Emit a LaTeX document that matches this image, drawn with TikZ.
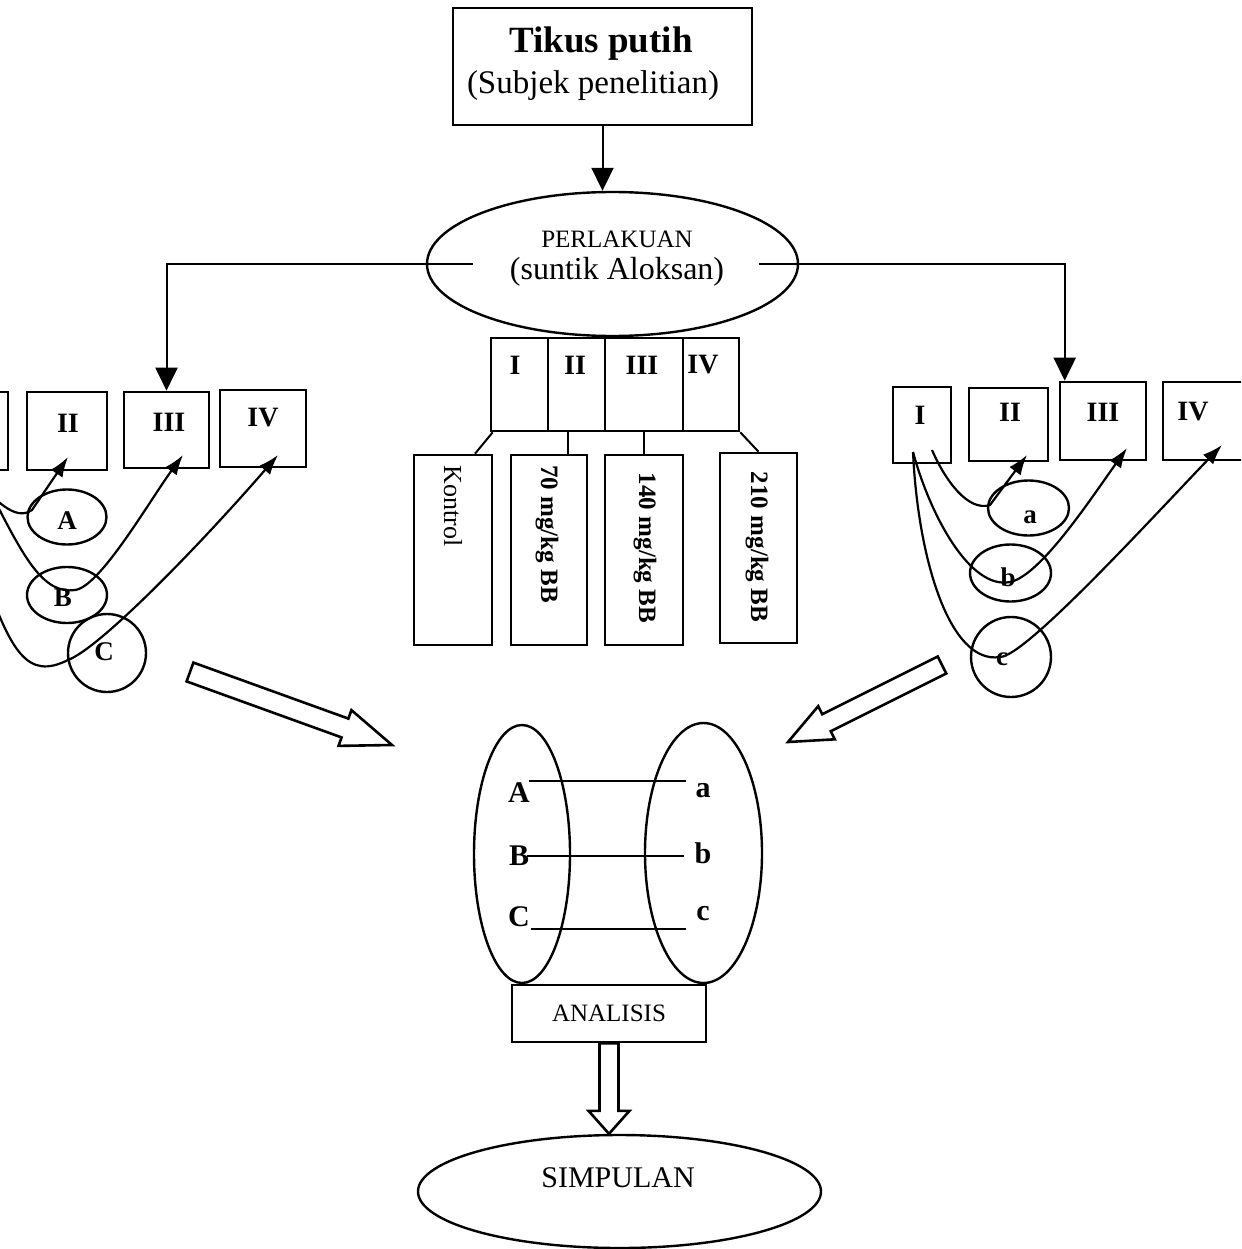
\documentclass[tikz,border=0pt]{standalone}
\usepackage{fontspec}
\setmainfont{Liberation Serif}
\usetikzlibrary{shapes.geometric,arrows.meta,calc}
\newcommand\sz[1]{\fontsize{#1}{#1}\selectfont}
% hollow block arrow: tail, tip, shaft half-width, head half-width, head length
\newcommand\fatarrow[5]{%
  \coordinate (fa-neck) at ($(#2)!#5!(#1)$);
  \draw[outline] ($(#1)!#3!90:(#2)$) -- ($(fa-neck)!#3!90:(#2)$)
    -- ($(fa-neck)!#4!90:(#2)$) -- (#2) -- ($(fa-neck)!#4!-90:(#2)$)
    -- ($(fa-neck)!#3!-90:(#2)$) -- ($(#1)!#3!-90:(#2)$) -- cycle;}
\begin{document}
\begin{tikzpicture}[x=1pt,y=-1pt,
  box/.style={draw, rectangle, line width=2.6pt, inner sep=0pt},
  oval/.style={draw, ellipse, line width=2.4pt, inner sep=0pt},
  ring/.style={draw, circle, line width=2.4pt, inner sep=0pt},
  num/.style={font=\sz{28}\bfseries, inner sep=0pt},
  lbl/.style={font=\sz{27}\bfseries, inner sep=0pt},
  letterlbl/.style={font=\sz{30}\bfseries, inner sep=0pt},
  vtext/.style={rotate=-90, inner sep=0pt, font=\sz{25}\bfseries},
  link/.style={line width=2pt},
  curvetip/.style={line width=2.2pt, -{Latex[length=20pt,width=14pt]}},
  droptip/.style={line width=2pt, -{Triangle[length=23pt,width=22pt]}},
  outline/.style={line width=2.6pt, line join=miter, fill=white}]
\useasboundingbox (0,0) rectangle (1241,1249);
\clip (0,0) rectangle (1241,1249);

% subject and treatment
\node[box, minimum width=299pt, minimum height=117pt] (top) at (602.5,66.5) {};
\node[inner sep=0pt, font=\sz{37}\bfseries] (topa) at (601,44) {Tikus putih};
\node[inner sep=0pt, font=\sz{33}] (topb) at (593,86) {(Subjek penelitian)};
\node[oval, minimum width=371pt, minimum height=144pt] (perl) at (612.5,264) {};
\node[inner sep=0pt, font=\sz{25}] (perla) at (617,239) {PERLAKUAN};
\node[inner sep=0pt, font=\sz{32}] (perlb) at (617,272) {(suntik Aloksan)};
\draw[droptip] (top.south) -- (top.south |- perl.north);

% left group
\node[box, minimum width=80pt, minimum height=78pt] (lI) at (-32,431) {};
\node[box, minimum width=80pt, minimum height=78pt] (lII) at (67,431) {};
\node[box, minimum width=85pt, minimum height=76pt] (lIII) at (166.5,430) {};
\node[box, minimum width=86pt, minimum height=77pt] (lIV) at (263,428.5) {};
\node[num] at (68,423) {II};
\node[num] at (169,422) {III};
\node[num] at (263,418) {IV};
\node[oval, minimum width=79pt, minimum height=55pt] (eA) at (67,517) {};
\node[oval, minimum width=80pt, minimum height=56pt] (eB) at (67,595) {};
\node[ring, minimum size=78pt] (eC) at (107,653) {};
\node[lbl] at (67,521) {A};
\node[lbl] at (63,598) {B};
\node[lbl] at (104,652) {C};
\coordinate (tA) at (68,457);
\coordinate (tB) at (183,455);
\coordinate (tC) at (278,455);
\draw[curvetip] (lI.south) .. controls (-5,500) and (15,522) .. (32,510) -- (tA);
\draw[curvetip] ([xshift=12pt]lI.south) .. controls (20,550) and (40,595) .. (75,590)
  .. controls (100,587) and (150,500) .. (tB);
\draw[curvetip] ([xshift=12pt,yshift=-90pt]lI.south) .. controls (10,655) and (28,680) .. (68,660)
  .. controls (100,648) and (200,545) .. (tC);
\draw[droptip] ([xshift=-140pt]perl.center) -| (lIII.north);

% dose groups
\node[box, minimum width=57pt, minimum height=93pt] (c1) at (519.5,384.5) {};
\node[box, minimum width=57pt, minimum height=93pt] (c2) at (576.5,384.5) {};
\node[box, minimum width=78pt, minimum height=93pt] (c3) at (644,384.5) {};
\node[box, minimum width=56pt, minimum height=93pt] (c4) at (711,384.5) {};
\node[num] at (515,365) {I};
\node[num] at (575,365) {II};
\node[num] at (642,365) {III};
\node[num] at (703,365) {IV};
\node[box, minimum width=78pt, minimum height=190pt] (k1) at (453,550) {};
\node[box, minimum width=76pt, minimum height=190pt] (k2) at (549,550) {};
\node[box, minimum width=78pt, minimum height=190pt] (k3) at (644,550) {};
\node[box, minimum width=77pt, minimum height=190pt] (k4) at (758.5,548) {};
\node[vtext, font=\sz{26}] at (453,506) {Kontrol};
\node[vtext] at (547,534) {70 mg/kg BB};
\node[vtext] at (645,548) {140 mg/kg BB};
\node[vtext] at (757,547) {210 mg/kg BB};
\coordinate (k2n) at ($(k2.north)+(19,0)$);
\draw[link] ($(c1.south west)+(3,0)$) -- ($(k1.north)+(22,0)$);
\draw[link] (k2n) -- (k2n |- c2.south);
\draw[link] (c3.south) -- (k3.north);
\draw[link] (c4.south east) -- (k4.north);

% right group
\node[box, minimum width=58pt, minimum height=76pt] (rI) at (922,425) {};
\node[box, minimum width=79pt, minimum height=73pt] (rII) at (1008.5,424.5) {};
\node[box, minimum width=86pt, minimum height=78pt] (rIII) at (1103,421) {};
\node[box, minimum width=87pt, minimum height=78pt] (rIV) at (1206.5,421) {};
\node[num] at (920,415) {I};
\node[num] at (1010,412) {II};
\node[num] at (1103,412) {III};
\node[num] at (1193,412) {IV};
\node[oval, minimum width=81pt, minimum height=55pt] (ea) at (1028.5,508) {};
\node[oval, minimum width=81pt, minimum height=57pt] (eb) at (1010.5,573) {};
\node[ring, minimum size=80pt] (ec) at (1011,657) {};
\node[lbl] at (1030,517) {a};
\node[lbl] at (1008,577) {b};
\node[lbl] at (1002,659) {c};
\coordinate (ra0) at (932,450);
\coordinate (rb0) at (913,452);
\coordinate (ta) at (1027,455);
\coordinate (tb) at (1127,448);
\coordinate (tc) at (1222,445);
\draw[curvetip] (ra0) .. controls (945,480) and (968,512) .. (990,505) -- (ta);
\draw[curvetip] (rb0) .. controls (930,515) and (970,590) .. (1010,582)
  .. controls (1040,576) and (1090,500) .. (tb);
\draw[curvetip] (rb0) .. controls (918,560) and (950,665) .. (1000,657)
  .. controls (1025,657) and (1150,520) .. (tc);
\coordinate (rIIIn) at ($(rIII.north west)+(6,0)$);
\draw[droptip] ([xshift=146pt]perl.center) -| (rIIIn);

% analysis
\node[oval, minimum width=96pt, minimum height=258pt] (gL) at (522,854) {};
\node[oval, minimum width=117pt, minimum height=260pt] (gR) at (703.5,853) {};
\node[box, minimum width=194pt, minimum height=57pt, font=\sz{25}] (ana) at (609,1013.5) {ANALISIS};
\node[letterlbl] (A2) at (519,793) {A};
\node[letterlbl] (B2) at (519,856) {B};
\node[letterlbl] (C2) at (519,917) {C};
\node[letterlbl] (a2) at (703,791) {a};
\node[letterlbl] (b2) at (703,853) {b};
\node[letterlbl] (c2l) at (703,914) {c};
\draw[link] ($(A2.north east)+(-1,-2)$) -- ++(157,0);
\draw[link] ([xshift=-2pt]B2.east) -- ++(157,0);
\draw[link] ($(C2.south east)+(1,2)$) -- ++(155,0);

% conclusion
\node[oval, minimum width=403pt, minimum height=113pt] (simp) at (619.5,1191.5) {};
\node[inner sep=0pt, font=\sz{30}] (simpt) at (618,1178) {SIMPULAN};

% block arrows into analysis and conclusion
\coordinate (lt) at (190,672);
\coordinate (lh) at (392,745);
\coordinate (rt) at (942,665);
\coordinate (rh) at (788,742);
\coordinate (simptop) at (ana.south |- simp.north);
\fatarrow{lt}{lh}{10pt}{19pt}{50pt}
\fatarrow{rt}{rh}{9.5pt}{18.5pt}{43pt}
\fatarrow{ana.south}{simptop}{9.5pt}{20.5pt}{23pt}
\end{tikzpicture}
\end{document}
